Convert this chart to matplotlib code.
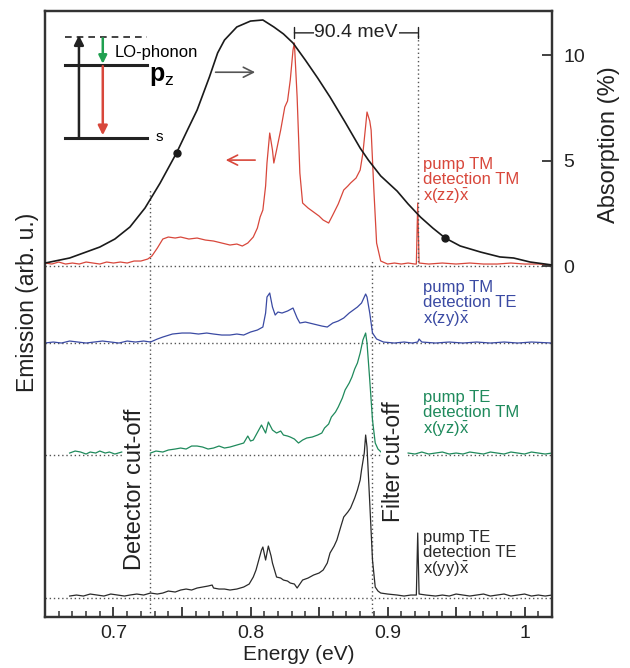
import numpy as np
import matplotlib
matplotlib.use('Agg')
import matplotlib.pyplot as plt
from matplotlib.ticker import MultipleLocator, FuncFormatter

plt.rcParams['font.family'] = ['Liberation Sans', 'DejaVu Sans']
plt.rcParams['mathtext.fontset'] = 'custom'
plt.rcParams['mathtext.rm'] = 'Liberation Sans'
plt.rcParams['mathtext.it'] = 'Liberation Sans'
plt.rcParams['mathtext.bf'] = 'Liberation Sans:bold'

# ---- absorption (right axis, %) ----
abs_energy = [0.650, 0.668, 0.690, 0.701, 0.712, 0.723, 0.734, 0.746, 0.754, 0.761,
              0.770, 0.776, 0.781, 0.790, 0.800, 0.809, 0.817, 0.824, 0.831, 0.840,
              0.849, 0.858, 0.869, 0.880, 0.886, 0.895, 0.907, 0.915, 0.924, 0.933,
              0.942, 0.953, 0.968, 0.982, 0.992, 1.004, 1.020]
abs_value = [0.14, 0.38, 0.90, 1.28, 1.85, 2.75, 3.93, 5.36, 6.45, 7.39,
             8.96, 10.1, 10.71, 11.33, 11.61, 11.66, 11.33, 11.00, 10.57, 9.76,
             8.91, 8.01, 6.82, 5.59, 5.02, 4.27, 3.55, 2.94, 2.32, 1.80,
             1.33, 0.95, 0.66, 0.43, 0.38, 0.19, 0.05]
dot_energy = [0.746, 0.942]
dot_value = [5.36, 1.33]

# ---- emission spectra (arb. u., height above own baseline) ----
# pump TM / detection TM, x(zz)x
zz_energy = [0.650, 0.655, 0.660, 0.665, 0.670, 0.675, 0.680, 0.685, 0.690, 0.695,
             0.700, 0.705, 0.710, 0.715, 0.720, 0.725, 0.728, 0.732, 0.736, 0.740,
             0.745, 0.749, 0.755, 0.761, 0.767, 0.773, 0.779, 0.785, 0.790, 0.794,
             0.798, 0.802, 0.805, 0.807, 0.809, 0.811, 0.812, 0.814, 0.816, 0.817,
             0.819, 0.822, 0.825, 0.827, 0.829, 0.831, 0.832, 0.834, 0.836, 0.838,
             0.842, 0.846, 0.850, 0.853, 0.857, 0.860, 0.864, 0.868, 0.871, 0.873,
             0.877, 0.880, 0.882, 0.884, 0.885, 0.887, 0.888, 0.890, 0.892, 0.895,
             0.900, 0.905, 0.910, 0.915, 0.920, 0.921, 0.922, 0.923, 0.930, 0.940,
             0.950, 0.960, 0.970, 0.980, 0.990, 1.000, 1.010, 1.020]
zz_signal = [3, 2, 4, 2, 3, 2, 4, 3, 2, 4,
             3, 4, 3, 5, 5, 7, 10, 18, 27, 29,
             28, 29, 27, 28, 26, 25, 23, 21, 22, 20,
             23, 29, 38, 49, 56, 80, 103, 133, 116, 103,
             116, 136, 159, 165, 186, 216, 223, 169, 93, 63,
             58, 54, 50, 46, 43, 51, 62, 76, 80, 83,
             88, 96, 113, 140, 154, 145, 136, 76, 23, 5,
             2, 3, 2, 3, 2, 2, 63, 3, 2, 3,
             2, 3, 2, 2, 3, 2, 2, 1]

# pump TM / detection TE, x(zy)x
zy_energy = [0.650, 0.656, 0.662, 0.668, 0.674, 0.680, 0.686, 0.692, 0.698, 0.704,
             0.710, 0.716, 0.722, 0.727, 0.732, 0.736, 0.743, 0.750, 0.756, 0.762,
             0.768, 0.773, 0.779, 0.785, 0.790, 0.795, 0.800, 0.805, 0.809, 0.811,
             0.812, 0.814, 0.816, 0.818, 0.820, 0.823, 0.827, 0.831, 0.834, 0.836,
             0.840, 0.843, 0.849, 0.852, 0.856, 0.860, 0.864, 0.868, 0.872, 0.875,
             0.878, 0.881, 0.884, 0.885, 0.887, 0.889, 0.892, 0.897, 0.905, 0.912,
             0.918, 0.922, 0.923, 0.925, 0.935, 0.945, 0.955, 0.965, 0.975, 0.985,
             0.995, 1.005, 1.020]
zy_signal = [0, 1, 0, 2, 1, 0, 1, 2, 1, 0,
             2, 1, 2, 1, 4, 6, 9, 10, 10, 9,
             10, 9, 8, 8, 9, 8, 11, 13, 16, 30,
             46, 50, 36, 28, 31, 30, 32, 35, 25, 20,
             21, 20, 18, 17, 16, 20, 22, 25, 30, 33,
             36, 40, 49, 46, 30, 10, 4, 1, 0, 1,
             0, 1, 4, 1, 0, 1, 0, 1, 0, 1,
             0, 1, 0]

# pump TE / detection TM, x(yz)x  (gaps where the labels sit)
yz_energy = [0.668, 0.672, 0.676, 0.680, 0.683, 0.687, 0.690, 0.694, 0.697, 0.701,
             0.706, 0.716,
             0.727, 0.731, 0.736, 0.740, 0.745, 0.749, 0.753, 0.757, 0.761, 0.765,
             0.769, 0.773, 0.777, 0.781, 0.785, 0.790, 0.795, 0.798, 0.800, 0.802,
             0.806, 0.808, 0.811, 0.813, 0.816, 0.819, 0.822, 0.824, 0.827, 0.829,
             0.832, 0.835, 0.838, 0.841, 0.845, 0.849, 0.852, 0.854, 0.857, 0.859,
             0.862, 0.864, 0.867, 0.869, 0.872, 0.874, 0.876, 0.878, 0.880, 0.882,
             0.884, 0.885, 0.887, 0.889, 0.891, 0.893, 0.896, 0.905,
             0.915, 0.920, 0.925, 0.930, 0.935, 0.940, 0.945, 0.950, 0.955, 0.960,
             0.965, 0.970, 0.975, 0.980, 0.985, 0.990, 0.995, 1.000, 1.005, 1.010,
             1.015, 1.020]
yz_signal = [2, 4, 3, 1, 3, 2, 4, 2, 3, 1,
             3, np.nan,
             2, 4, 3, 5, 6, 7, 6, 9, 9, 8,
             6, 7, 9, 7, 8, 10, 12, 19, 14, 15,
             25, 30, 22, 33, 25, 22, 24, 20, 19, 18,
             16, 12, 15, 17, 18, 20, 22, 27, 31, 38,
             43, 48, 57, 65, 72, 78, 86, 92, 102, 115,
             122, 112, 75, 35, 12, 6, 2, np.nan,
             2, 1, 3, 1, 2, 3, 1, 2, 1, 3,
             2, 1, 3, 2, 1, 3, 2, 1, 3, 2,
             1, 2]

# pump TE / detection TE, x(yy)x
yy_energy = [0.668, 0.673, 0.678, 0.683, 0.688, 0.693, 0.698, 0.703, 0.708, 0.712,
             0.717, 0.722, 0.727, 0.732, 0.736, 0.740, 0.745, 0.749, 0.753, 0.757,
             0.761, 0.765, 0.769, 0.772, 0.773, 0.777, 0.781, 0.785, 0.790, 0.795,
             0.799, 0.802, 0.804, 0.806, 0.808, 0.809, 0.811, 0.813, 0.815, 0.816,
             0.819, 0.822, 0.824, 0.827, 0.829, 0.832, 0.834, 0.836, 0.838, 0.842,
             0.846, 0.850, 0.853, 0.856, 0.858, 0.861, 0.863, 0.866, 0.868, 0.871,
             0.873, 0.876, 0.878, 0.880, 0.881, 0.883, 0.884, 0.885, 0.887, 0.889,
             0.891, 0.893, 0.895, 0.900, 0.907, 0.912, 0.917, 0.921, 0.922, 0.923,
             0.928, 0.935, 0.940, 0.945, 0.950, 0.955, 0.960, 0.965, 0.970, 0.975,
             0.980, 0.985, 0.990, 0.995, 1.000, 1.005, 1.010, 1.015, 1.020]
yy_signal = [2, 3, 2, 4, 3, 2, 4, 3, 2, 3,
             4, 3, 5, 4, 5, 7, 6, 8, 9, 8,
             10, 11, 12, 13, 10, 9, 9, 8, 9, 11,
             14, 21, 28, 38, 48, 51, 38, 52, 42, 35,
             21, 20, 18, 17, 15, 14, 10, 14, 18, 20,
             23, 25, 28, 35, 45, 52, 58, 72, 81, 86,
             90, 100, 108, 118, 128, 145, 163, 151, 95, 38,
             11, 7, 5, 4, 3, 2, 3, 3, 65, 4,
             3, 2, 3, 2, 4, 3, 2, 3, 4, 2,
             3, 4, 2, 3, 4, 2, 3, 2, 3]

baselines = [351, 274, 162, 19]        # zz, zy, yz, yy
colors = ['#d8473b', '#3a4aa3', '#1f8a5c', '#2a2a2a']
labels = [r'pump TM' + '\n' + r'detection TM' + '\n' + r'x(zz)$\bar{\mathrm{x}}$',
          r'pump TM' + '\n' + r'detection TE' + '\n' + r'x(zy)$\bar{\mathrm{x}}$',
          r'pump TE' + '\n' + r'detection TM' + '\n' + r'x(yz)$\bar{\mathrm{x}}$',
          r'pump TE' + '\n' + r'detection TE' + '\n' + r'x(yy)$\bar{\mathrm{x}}$']
label_y = [0.759, 0.556, 0.375, 0.144]

detector_cutoff = 0.727
filter_cutoff = 0.889
phonon_lo, phonon_hi = 0.832, 0.922

fig = plt.figure(figsize=(6.3, 6.68), dpi=100)
ax = fig.add_axes([0.0714, 0.0763, 0.8048, 0.9072])
ax2 = ax.twinx()

ax.set_xlim(0.65, 1.02)
ax.set_ylim(0, 606)
ax2.set_ylim(-351 / 21.1, 255 / 21.1)

dotc = '#555555'
for b in baselines:
    ax.axhline(b, color=dotc, ls=(0, (1, 2)), lw=1.0, zorder=1)
ax.plot([detector_cutoff, detector_cutoff], [0, 427], color=dotc, ls=(0, (1, 2)), lw=1.0)
ax.plot([filter_cutoff, filter_cutoff], [0, 357], color=dotc, ls=(0, (1, 2)), lw=1.0)
ax2.plot([phonon_hi, phonon_hi], [0, 11.05], color=dotc, ls=(0, (1, 2)), lw=1.0)

series = [(zz_energy, zz_signal), (zy_energy, zy_signal),
          (yz_energy, yz_signal), (yy_energy, yy_signal)]
for (e, s), b, c in zip(series, baselines, colors):
    ax.plot(e, np.array(s, dtype=float) + b, color=c, lw=0.9, zorder=3)

ax2.plot(abs_energy, abs_value, color='#1a1a1a', lw=1.2, zorder=4)
ax2.plot(dot_energy, dot_value, 'o', color='#1a1a1a', ms=5, zorder=5)

# labels of the spectra
for txt, y, c in zip(labels, label_y, colors):
    ax.text(0.746, y, txt, transform=ax.transAxes, color=c, fontsize=12,
            ha='left', va='top', linespacing=1.0)

ax.text(0.178, 0.21, 'Detector cut-off', transform=ax.transAxes, rotation=90,
        fontsize=17, ha='center', va='center', color='#222222', zorder=6,
        bbox=dict(facecolor='white', edgecolor='none', pad=1))
ax.text(0.688, 0.256, 'Filter cut-off', transform=ax.transAxes, rotation=90,
        fontsize=16.5, ha='center', va='center', color='#222222', zorder=6,
        bbox=dict(facecolor='white', edgecolor='none', pad=1))

# 90.4 meV bracket
ax2.annotate('', xy=(phonon_lo, 11.05), xytext=(phonon_hi, 11.05),
             arrowprops=dict(arrowstyle='|-|', lw=1.0, color='#222222',
                             mutation_scale=4, shrinkA=0, shrinkB=0))
ax2.text((phonon_lo + phonon_hi) / 2, 11.05, '90.4 meV', fontsize=14,
         ha='center', va='center', color='#222222', zorder=6,
         bbox=dict(facecolor='white', edgecolor='none', pad=0.5))

# arrows pointing to the axes
ax.annotate('', xy=(0.420, 0.899), xytext=(0.331, 0.899), xycoords='axes fraction',
            arrowprops=dict(arrowstyle='->', lw=1.2, color='#555555', mutation_scale=18))
ax.annotate('', xy=(0.351, 0.754), xytext=(0.420, 0.754), xycoords='axes fraction',
            arrowprops=dict(arrowstyle='->', lw=1.2, color='#d8473b', mutation_scale=18))

# level scheme
tr = ax.transAxes
ax.plot([0.039, 0.201], [0.957, 0.957], color='#222222', lw=1.2, ls=(0, (4, 3)), transform=tr)
ax.plot([0.039, 0.201], [0.911, 0.911], color='#222222', lw=2.2, transform=tr)
ax.plot([0.039, 0.201], [0.790, 0.790], color='#222222', lw=2.2, transform=tr)
ax.annotate('', xy=(0.067, 0.960), xytext=(0.067, 0.790), xycoords='axes fraction',
            arrowprops=dict(arrowstyle='-|>', lw=1.8, color='#222222', mutation_scale=14,
                            shrinkA=0, shrinkB=0))
ax.annotate('', xy=(0.114, 0.913), xytext=(0.114, 0.955), xycoords='axes fraction',
            arrowprops=dict(arrowstyle='-|>', lw=1.8, color='#20a050', mutation_scale=12,
                            shrinkA=0, shrinkB=0))
ax.annotate('', xy=(0.114, 0.795), xytext=(0.114, 0.909), xycoords='axes fraction',
            arrowprops=dict(arrowstyle='-|>', lw=1.8, color='#d8473b', mutation_scale=14,
                            shrinkA=0, shrinkB=0))
ax.text(0.138, 0.931, 'LO-phonon', transform=tr, fontsize=12, va='center', ha='left')
ax.text(0.205, 0.893, r'$\mathbf{p}_\mathrm{z}$', transform=tr, fontsize=18, va='center', ha='left')
ax.text(0.218, 0.792, 's', transform=tr, fontsize=11, va='center', ha='left')

# axes styling
for a in (ax, ax2):
    for sp in a.spines.values():
        sp.set_color('#333333')
        sp.set_linewidth(1.6)

ax.tick_params(axis='y', left=False, labelleft=False)
ax.xaxis.set_major_locator(MultipleLocator(0.05))
ax.xaxis.set_minor_locator(MultipleLocator(0.01))
ax.xaxis.set_major_formatter(FuncFormatter(
    lambda v, p: ('%g' % round(v, 1)) if abs(v * 10 - round(v * 10)) < 1e-6 else ''))
ax.tick_params(axis='x', which='major', direction='in', length=7, width=1.3,
               labelsize=14, pad=6, colors='#333333', labelcolor='#222222')
ax.tick_params(axis='x', which='minor', direction='in', length=4, width=1.1, colors='#333333')
ax.set_xlabel('Energy (eV)', fontsize=15, labelpad=2, color='#222222')
ax.set_ylabel('Emission (arb. u.)', fontsize=16.5, color='#222222')
ax.yaxis.set_label_coords(-0.012, 0.52)

ax2.set_yticks([0, 5, 10])
ax2.tick_params(axis='y', direction='in', length=7, width=1.3, labelsize=14, pad=8,
                colors='#333333', labelcolor='#222222')
ax2.set_ylabel('Absorption (%)', fontsize=17, color='#222222')
ax2.yaxis.set_label_coords(1.09, 0.779)

fig.savefig('out.png', dpi=100)
